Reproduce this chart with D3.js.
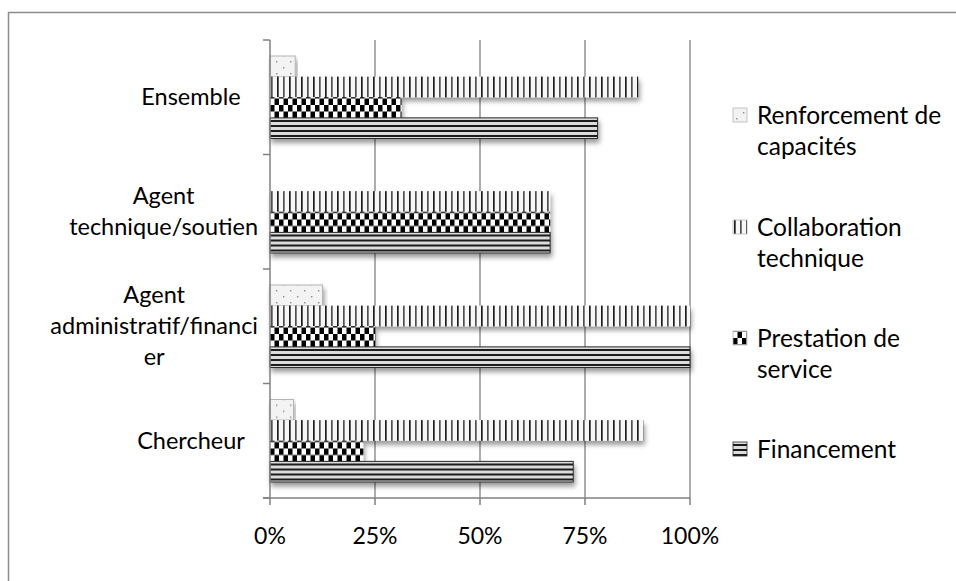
<!DOCTYPE html>
<html>
<head>
<meta charset="utf-8">
<script src="https://cdn.jsdelivr.net/npm/d3@7"></script>
<style>
  html, body { margin: 0; padding: 0; background: #fff; }
  svg { display: block; }
  text { font-family: Lato, "Open Sans", sans-serif; fill: #000; }
</style>
</head>
<body>
<svg id="chart" width="956" height="581"></svg>
<script>
// Categories, top to bottom, with their wrapped label lines
const categories = ["Ensemble", "Agent technique/soutien", "Agent administratif/financier", "Chercheur"];
const categoryLines = [["Ensemble"], ["Agent", "technique/soutien"], ["Agent", "administratif/financi", "er"], ["Chercheur"]];

// Series, drawn top to bottom inside each category
const series = ["Renforcement de capacités", "Collaboration technique", "Prestation de service", "Financement"];
const seriesLines = [["Renforcement de", "capacités"], ["Collaboration", "technique"], ["Prestation de", "service"], ["Financement"]];

// Shares (0–1) per series, in category order
const renforcement  = [0.06, 0,     0.125, 0.056];
const collaboration = [0.877, 0.667, 1.00, 0.889];
const prestation    = [0.313, 0.667, 0.25, 0.222];
const financement   = [0.78, 0.667, 1.00, 0.722];
const seriesValues = [renforcement, collaboration, prestation, financement];

const xTicks = [0, 0.25, 0.5, 0.75, 1];
const xTickLabels = ["0%", "25%", "50%", "75%", "100%"];

const svg = d3.select("#chart");
const axisColor = "#808080";
const tickFont = 23, catFont = 23.5, legendFont = 24.5;

// Outer chart frame
svg.append("rect")
  .attr("x", 8.5).attr("y", 12.5)
  .attr("width", 1000).attr("height", 700)
  .attr("fill", "none").attr("stroke", "#8c8c8c").attr("stroke-width", 1.5);

const x = d3.scaleLinear().domain([0, 1]).range([270, 690]);
const y = d3.scaleBand().domain(categories).range([40, 498]);
const inner = d3.scaleBand().domain(series).range([16, y.bandwidth() - 16]);

// Fill patterns
const defs = svg.append("defs");

const pR = defs.append("pattern").attr("id", "pat-renf")
  .attr("patternUnits", "userSpaceOnUse").attr("width", 14).attr("height", 12);
pR.append("rect").attr("width", 14).attr("height", 12).attr("fill", "#f3f3f3");
pR.append("rect").attr("x", 3).attr("y", 3).attr("width", 1.4).attr("height", 1.4).attr("fill", "#8a8a8a");
pR.append("rect").attr("x", 10).attr("y", 9).attr("width", 1.4).attr("height", 1.4).attr("fill", "#8a8a8a");

const pC = defs.append("pattern").attr("id", "pat-collab")
  .attr("patternUnits", "userSpaceOnUse").attr("width", 12).attr("height", 10);
pC.append("rect").attr("width", 12).attr("height", 10).attr("fill", "#f7f7f7");
pC.append("rect").attr("x", 1).attr("width", 1.7).attr("height", 10).attr("fill", "#1e1e1e");
pC.append("rect").attr("x", 7).attr("width", 1.7).attr("height", 10).attr("fill", "#505050");

const pP = defs.append("pattern").attr("id", "pat-prest")
  .attr("patternUnits", "userSpaceOnUse").attr("width", 9).attr("height", 13);
pP.append("rect").attr("width", 9).attr("height", 13).attr("fill", "#fff");
pP.append("rect").attr("x", 0).attr("y", 0).attr("width", 4.5).attr("height", 6.5).attr("fill", "#000");
pP.append("rect").attr("x", 4.5).attr("y", 6.5).attr("width", 4.5).attr("height", 6.5).attr("fill", "#000");

const pF = defs.append("pattern").attr("id", "pat-fin")
  .attr("patternUnits", "userSpaceOnUse").attr("width", 10).attr("height", 5);
pF.append("rect").attr("width", 10).attr("height", 5).attr("fill", "#dcdcdc");
pF.append("rect").attr("y", 0).attr("width", 10).attr("height", 2).attr("fill", "#1a1a1a");

const fills = ["url(#pat-renf)", "url(#pat-collab)", "url(#pat-prest)", "url(#pat-fin)"];
const strokes = ["#b5b5b5", "none", "none", "#2a2a2a"];

const shadow = defs.append("filter").attr("id", "shadow")
  .attr("x", "-5%").attr("y", "-30%").attr("width", "115%").attr("height", "200%");
shadow.append("feDropShadow").attr("dx", 1.5).attr("dy", 4)
  .attr("stdDeviation", 2.8).attr("flood-color", "#000").attr("flood-opacity", 0.4);

// Vertical gridlines
svg.append("g").selectAll("line")
  .data(xTicks.slice(1))
  .join("line")
  .attr("x1", d => x(d)).attr("x2", d => x(d))
  .attr("y1", 40).attr("y2", 498)
  .attr("stroke", axisColor).attr("stroke-width", 1.3);

// Bars
const groups = svg.append("g").selectAll("g")
  .data(categories)
  .join("g")
  .attr("transform", c => `translate(0,${y(c)})`);

groups.each(function (c, ci) {
  const g = d3.select(this);
  series.forEach((s, si) => {
    const v = seriesValues[si][ci];
    if (v <= 0) return;
    g.append("rect")
      .attr("x", x(0))
      .attr("y", inner(s))
      .attr("width", x(v) - x(0))
      .attr("height", inner.bandwidth())
      .attr("fill", fills[si])
      .attr("stroke", strokes[si])
      .attr("stroke-width", 1)
      .attr("filter", "url(#shadow)");
  });
});

// Category axis (left)
const yAxis = svg.append("g");
yAxis.append("line")
  .attr("x1", x(0)).attr("x2", x(0)).attr("y1", 40).attr("y2", 498)
  .attr("stroke", axisColor).attr("stroke-width", 1.5);
const bounds = categories.map(c => y(c)).concat([y.range()[1]]);
yAxis.selectAll("line.tick")
  .data(bounds)
  .join("line").attr("class", "tick")
  .attr("x1", x(0) - 7).attr("x2", x(0))
  .attr("y1", d => d).attr("y2", d => d)
  .attr("stroke", axisColor).attr("stroke-width", 1.5);

// Each label is a block of centred lines; the block is centred on labelCenter
// unless its widest line would run past labelRight, then it is pushed left.
const lineH = 31, labelCenter = 191, labelRight = x(0) - 12;
yAxis.selectAll("text")
  .data(categories)
  .join("text")
  .attr("font-size", catFont)
  .attr("text-anchor", "middle")
  .each(function (c, i) {
    const lines = categoryLines[i];
    const cy = y(c) + y.bandwidth() / 2;
    const t = d3.select(this);
    const spans = lines.map((ln, k) => t.append("tspan")
      .attr("y", cy + (k - (lines.length - 1) / 2) * lineH)
      .attr("dy", "0.35em")
      .text(ln));
    const blockW = d3.max(spans, s => s.node().getComputedTextLength());
    const cx = Math.min(labelCenter, labelRight - blockW / 2);
    spans.forEach(s => s.attr("x", cx));
  });

// Value axis (bottom)
const xAxis = svg.append("g");
xAxis.append("line")
  .attr("x1", x(0) - 7).attr("x2", x(1)).attr("y1", 498).attr("y2", 498)
  .attr("stroke", axisColor).attr("stroke-width", 1.5);
xAxis.selectAll("line.tick")
  .data(xTicks)
  .join("line").attr("class", "tick")
  .attr("x1", d => x(d)).attr("x2", d => x(d))
  .attr("y1", 498).attr("y2", 505)
  .attr("stroke", axisColor).attr("stroke-width", 1.5);
xAxis.selectAll("text")
  .data(xTicks)
  .join("text")
  .attr("x", d => x(d))
  .attr("y", 536)
  .attr("dy", "0.35em")
  .attr("text-anchor", "middle")
  .attr("font-size", tickFont)
  .text((d, i) => xTickLabels[i]);

// Legend
const legendY = [115, 227, 338, 449];
const legend = svg.append("g").selectAll("g")
  .data(series)
  .join("g")
  .attr("transform", (d, i) => `translate(733,${legendY[i]})`);
legend.append("rect")
  .attr("x", 0).attr("y", -7).attr("width", 14).attr("height", 14)
  .attr("fill", (d, i) => fills[i])
  .attr("stroke", (d, i) => strokes[i] === "none" ? "#bbb" : strokes[i])
  .attr("stroke-width", 0.8);
legend.append("text")
  .attr("font-size", legendFont)
  .each(function (d, i) {
    const t = d3.select(this);
    seriesLines[i].forEach((ln, k) => {
      t.append("tspan").attr("x", 24).attr("y", k * lineH).attr("dy", "0.35em").text(ln);
    });
  });
</script>
</body>
</html>
